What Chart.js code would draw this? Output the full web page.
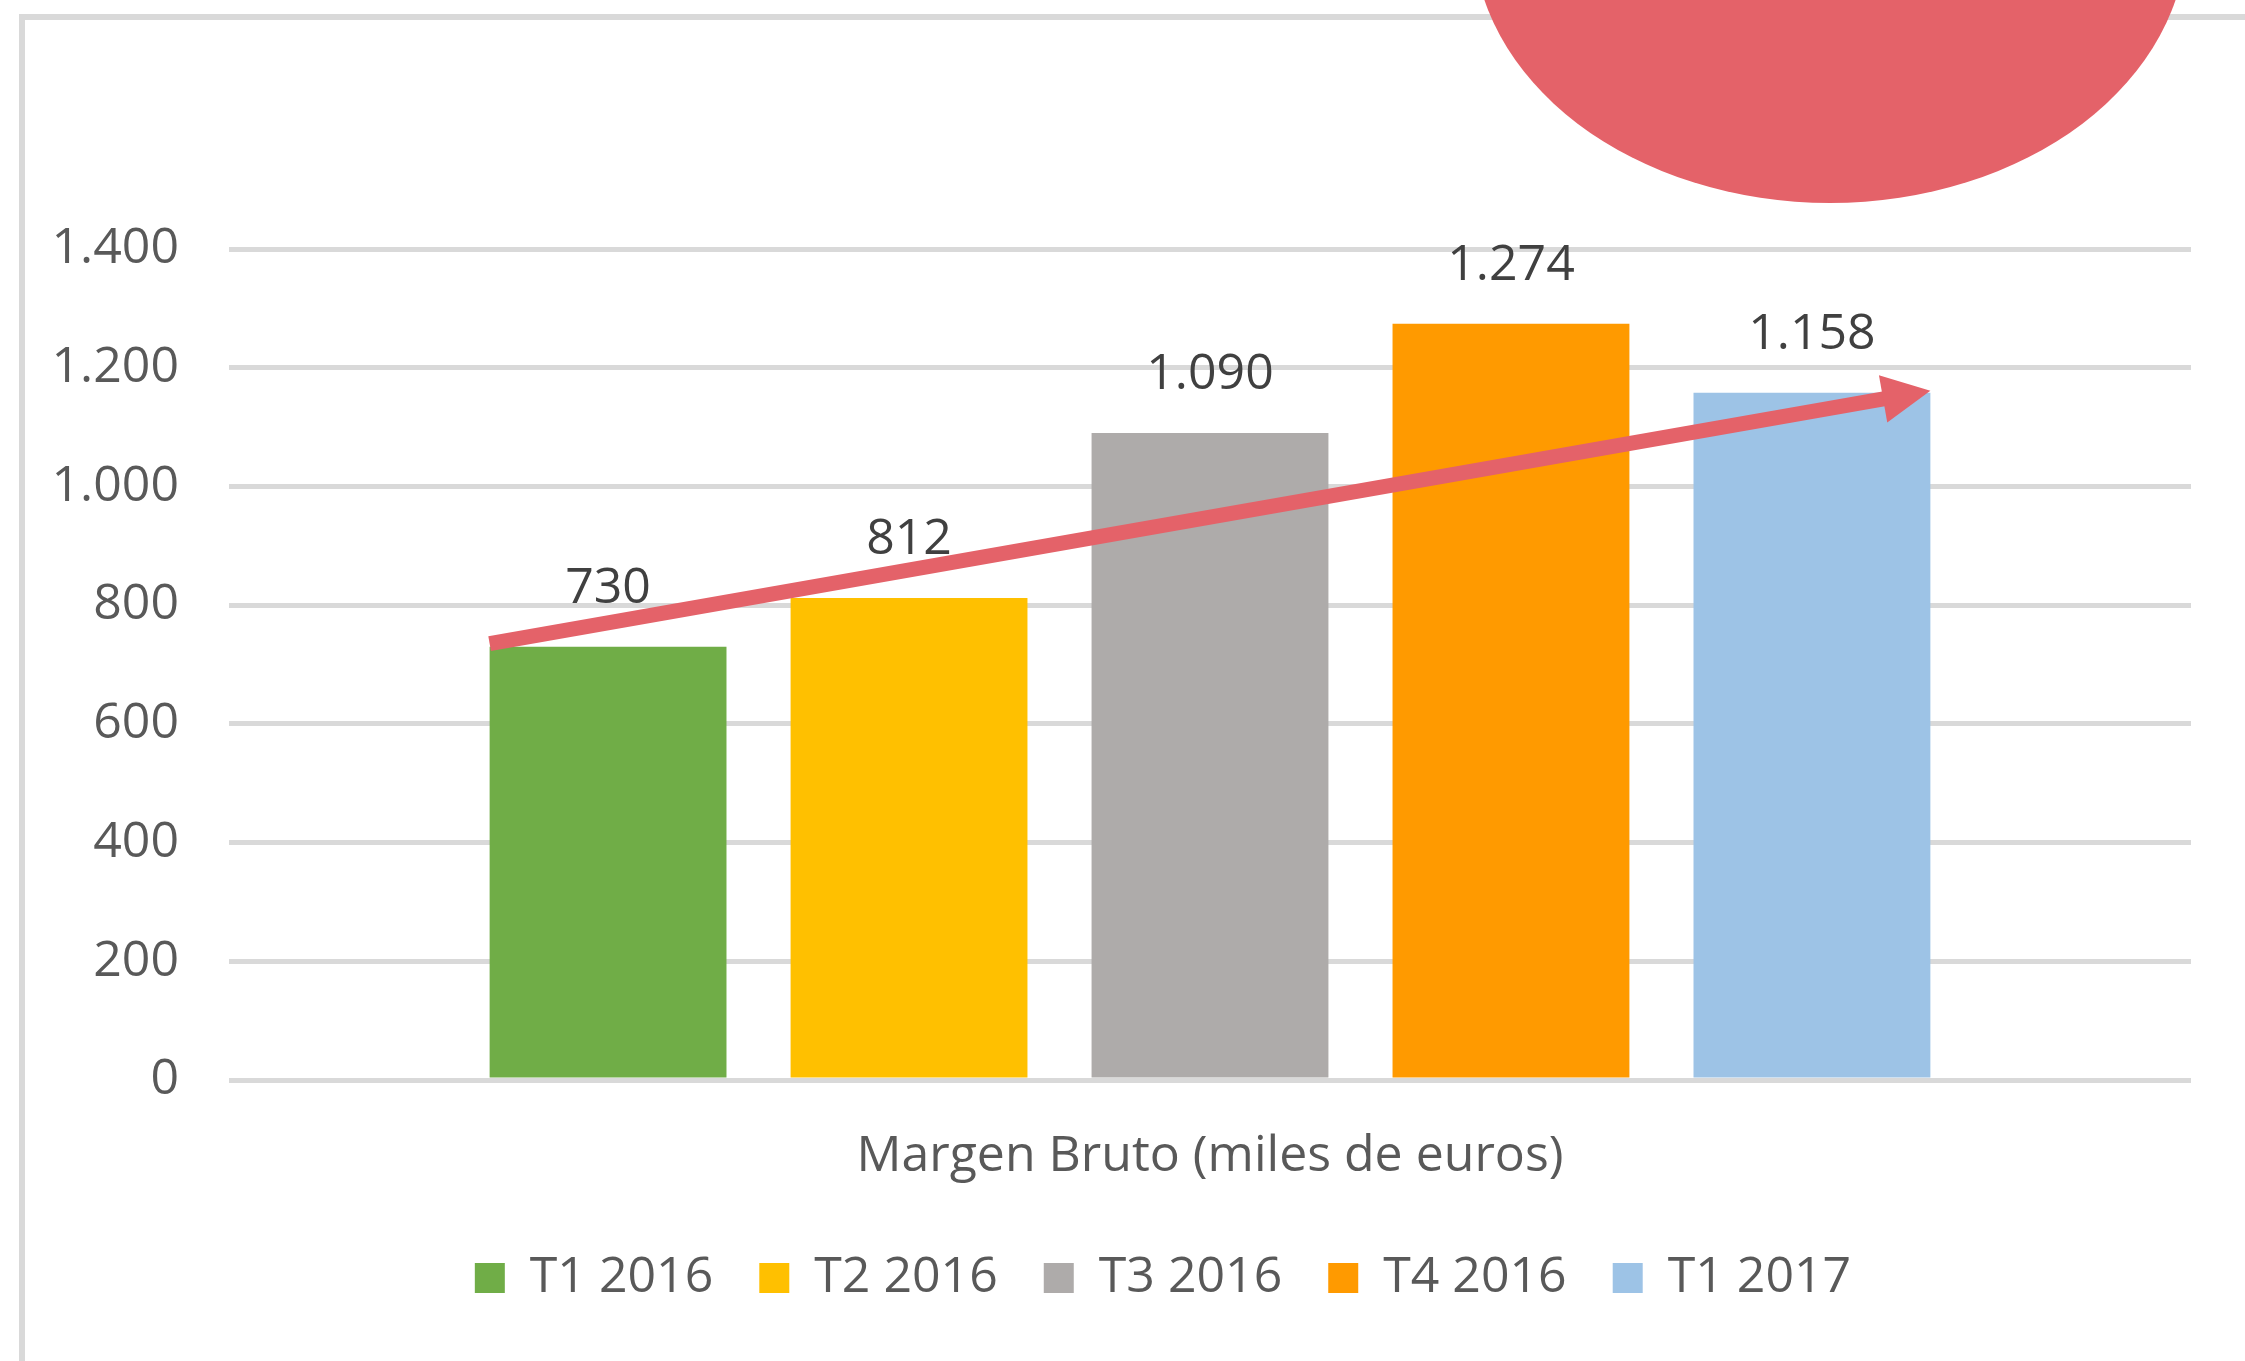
<!DOCTYPE html>
<html>
<head>
<meta charset="utf-8">
<script src="https://cdn.jsdelivr.net/npm/chart.js@4.4.1/dist/chart.umd.min.js"></script>
<style>
  html, body { margin: 0; padding: 0; background: #ffffff; }
  #wrap { position: relative; width: 2245px; height: 1361px; overflow: hidden; }
  canvas { display: block; }
</style>
</head>
<body>
<div id="wrap"><canvas id="c" width="2245" height="1361"></canvas></div>
<script>
// ---- data ----
const categories = ['Margen Bruto (miles de euros)'];
const seriesNames = ['T1 2016', 'T2 2016', 'T3 2016', 'T4 2016', 'T1 2017'];
const seriesValues = [730, 812, 1090, 1274, 1158];
const seriesColors = ['#70AD47', '#FFC000', '#AEABAA', '#FF9A00', '#9DC3E6'];
const yTicks = [0, 200, 400, 600, 800, 1000, 1200, 1400];

const FONT = '"Open Sans", "Noto Sans", sans-serif';
const ACCENT = '#E46269';

function fmt(v) { return String(v).replace(/\B(?=(\d{3})+(?!\d))/g, '.'); }

const datasets = seriesNames.map((name, i) => ({
  label: name,
  data: [seriesValues[i]],
  backgroundColor: seriesColors[i],
  borderWidth: 0,
  categoryPercentage: 0.767,
  barPercentage: 0.787
}));

// frame + ellipse decoration
const decor = {
  id: 'decor',
  beforeDraw(chart) {
    const ctx = chart.ctx;
    ctx.save();
    ctx.fillStyle = '#D9D9D9';
    ctx.fillRect(19, 14, chart.width, 6);
    ctx.fillRect(19, 14, 6, chart.height);
    ctx.restore();
  },
  afterDraw(chart) {
    const ctx = chart.ctx;
    ctx.save();
    ctx.fillStyle = ACCENT;
    ctx.beginPath();
    ctx.ellipse(1830, -68, 357, 271, 0, 0, Math.PI * 2);
    ctx.fill();
    ctx.restore();
  }
};

// narrow the legend box on the left so it is centred like the reference
const legendShift = {
  id: 'legendShift',
  afterLayout(chart) {
    if (chart.legend) {
      chart.legend.left += 106;
    }
  }
};

// value labels above bars
const valueLabels = {
  id: 'valueLabels',
  afterDatasetsDraw(chart) {
    const ctx = chart.ctx;
    ctx.save();
    ctx.font = '50px ' + FONT;
    ctx.fillStyle = '#404040';
    ctx.textAlign = 'center';
    ctx.textBaseline = 'alphabetic';
    chart.data.datasets.forEach((ds, i) => {
      const meta = chart.getDatasetMeta(i);
      meta.data.forEach((el, j) => {
        ctx.fillText(fmt(ds.data[j]), el.x, el.y - 44);
      });
    });
    ctx.restore();
  }
};

// trend arrow from first bar's top-left to last bar's top-right
const trendArrow = {
  id: 'trendArrow',
  afterDatasetsDraw(chart) {
    const n = chart.data.datasets.length;
    const a = chart.getDatasetMeta(0).data[0];
    const b = chart.getDatasetMeta(n - 1).data[0];
    const x0 = a.x - a.width / 2, y0 = a.y - 3;
    const x1 = b.x + b.width / 2, y1 = b.y - 2;
    const ang = Math.atan2(y1 - y0, x1 - x0);
    const headLen = 48, headHalf = 24, lw = 15;
    const bx = x1 - headLen * Math.cos(ang), by = y1 - headLen * Math.sin(ang);
    const ctx = chart.ctx;
    ctx.save();
    ctx.strokeStyle = ACCENT;
    ctx.fillStyle = ACCENT;
    ctx.lineWidth = lw;
    ctx.lineCap = 'butt';
    ctx.beginPath();
    ctx.moveTo(x0, y0);
    ctx.lineTo(bx + 2 * Math.cos(ang), by + 2 * Math.sin(ang));
    ctx.stroke();
    ctx.beginPath();
    ctx.moveTo(x1, y1);
    ctx.lineTo(bx - headHalf * Math.sin(ang), by + headHalf * Math.cos(ang));
    ctx.lineTo(bx + headHalf * Math.sin(ang), by - headHalf * Math.cos(ang));
    ctx.closePath();
    ctx.fill();
    ctx.restore();
  }
};

new Chart(document.getElementById('c'), {
  type: 'bar',
  data: { labels: categories, datasets },
  options: {
    responsive: false,
    animation: false,
    devicePixelRatio: 1,
    layout: { padding: { left: 29, right: 54, top: 249, bottom: 48 } },
    scales: {
      x: {
        grid: { display: false },
        border: { display: false },
        ticks: { color: '#595959', font: { family: FONT, size: 50 }, padding: 39 },
        afterFit(s) { s.height = 127; }
      },
      y: {
        min: 0,
        max: 1400,
        afterBuildTicks(s) { s.ticks = yTicks.map(v => ({ value: v })); },
        grid: { color: '#D9D9D9', lineWidth: 5, drawTicks: false },
        border: { display: false },
        ticks: {
          color: '#595959',
          font: { family: FONT, size: 50 },
          padding: 50,
          callback: v => fmt(v)
        },
        afterFit(s) { s.width = 200; }
      }
    },
    plugins: {
      legend: {
        position: 'bottom',
        labels: {
          color: '#595959',
          font: { family: FONT, size: 50 },
          boxWidth: 30,
          boxHeight: 30,
          padding: 46
        }
      },
      tooltip: { enabled: false }
    }
  },
  plugins: [decor, legendShift, valueLabels, trendArrow]
});
</script>
</body>
</html>
